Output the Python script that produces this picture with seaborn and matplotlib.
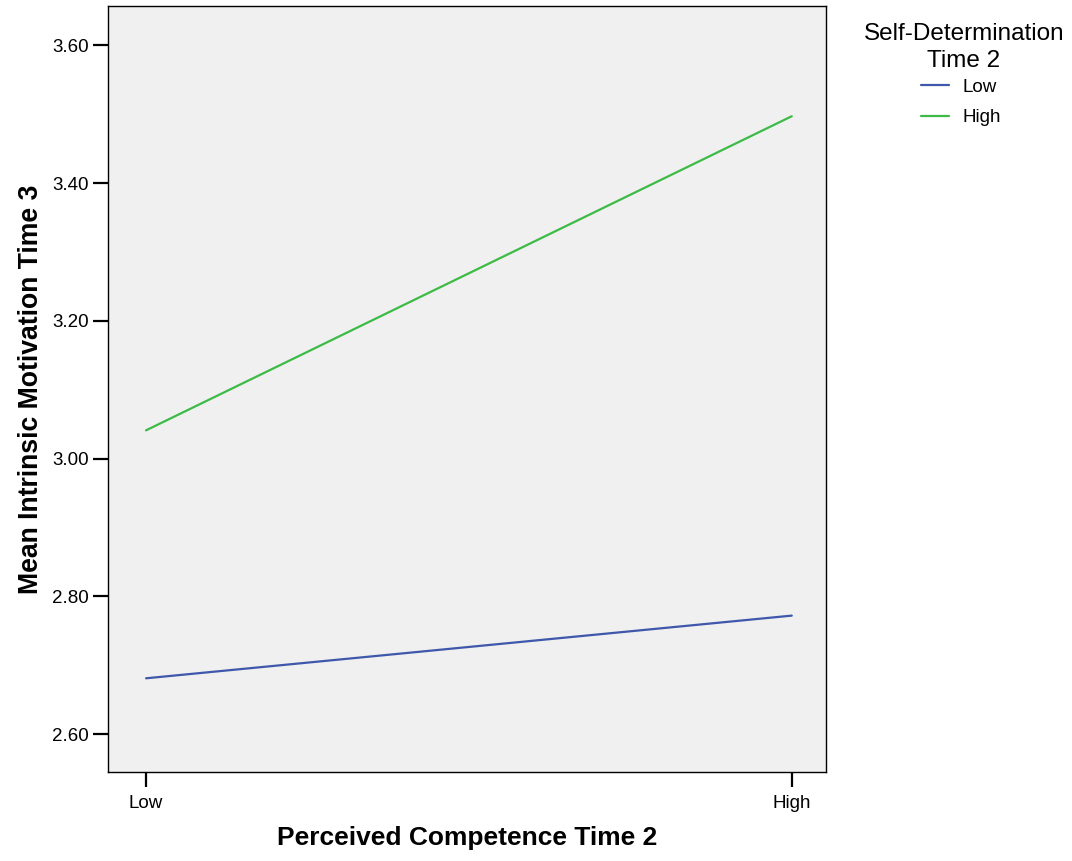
import matplotlib
matplotlib.use("Agg")
import matplotlib.pyplot as plt
import pandas as pd
import seaborn as sns

COMPETENCE_LEVELS = ["Low", "High"]
SELF_DETERMINATION_LEVELS = ["Low", "High"]
MEAN_LOW_SD = [2.681, 2.772]
MEAN_HIGH_SD = [3.041, 3.497]
Y_TICKS = [2.60, 2.80, 3.00, 3.20, 3.40, 3.60]

LINE_COLORS = {"Low": "#3f58ab", "High": "#3dbb46"}


def build_frame():
    """Long-format table of cell means for seaborn."""
    rows = []
    for level, means in zip(SELF_DETERMINATION_LEVELS, [MEAN_LOW_SD, MEAN_HIGH_SD]):
        for comp, value in zip(COMPETENCE_LEVELS, means):
            rows.append({"Competence": comp, "SelfDetermination": level, "Mean": value})
    return pd.DataFrame(rows)


def main():
    sns.set_style("ticks")
    plt.rcParams["font.family"] = ["Liberation Sans", "DejaVu Sans"]
    plt.rcParams["text.color"] = "black"
    plt.rcParams["axes.labelcolor"] = "black"

    df = build_frame()

    fig = plt.figure(figsize=(10.72, 8.61), dpi=100)
    ax = fig.add_axes([0.1007, 0.1034, 0.6698, 0.8896])
    ax.set_facecolor("#f0f0f0")

    sns.lineplot(
        data=df,
        x="Competence",
        y="Mean",
        hue="SelfDetermination",
        hue_order=SELF_DETERMINATION_LEVELS,
        palette=LINE_COLORS,
        linewidth=1.6,
        ax=ax,
        legend=False,
    )

    ax.set_xlim(-0.059, 1.053)
    ax.set_ylim(2.545, 3.657)
    ax.set_yticks(Y_TICKS)
    ax.set_yticklabels([f"{v:.2f}" for v in Y_TICKS])
    ax.set_xticks([0, 1])
    ax.set_xticklabels(COMPETENCE_LEVELS)
    ax.tick_params(axis="both", length=10.5, width=1.6, labelsize=13.5, colors="black", pad=3)
    ax.tick_params(axis="x", pad=6)

    for spine in ax.spines.values():
        spine.set_visible(True)
        spine.set_color("black")
        spine.set_linewidth(1.0)

    ax.set_xlabel("Perceived Competence Time 2", fontsize=19, fontweight="bold", labelpad=10)
    ax.set_ylabel("Mean Intrinsic Motivation Time 3", fontsize=19.2, fontweight="bold", labelpad=6)

    # legend title drawn separately so its gap to the entries can be matched
    fig.text(
        0.899, 0.973, "Self-Determination\nTime 2",
        ha="center", va="top", fontsize=17.5, multialignment="center",
        linespacing=1.3,
    )
    handles = [
        plt.Line2D([0], [0], color=LINE_COLORS[level], linewidth=1.6)
        for level in SELF_DETERMINATION_LEVELS
    ]
    fig.legend(
        handles,
        SELF_DETERMINATION_LEVELS,
        loc="upper left",
        bbox_to_anchor=(0.8556, 0.913),
        borderaxespad=0,
        frameon=False,
        fontsize=13.5,
        handlelength=1.5,
        handletextpad=0.7,
        labelspacing=0.72,
        borderpad=0.2,
    )

    fig.savefig("out.png", dpi=100)
    plt.close(fig)


if __name__ == "__main__":
    main()
